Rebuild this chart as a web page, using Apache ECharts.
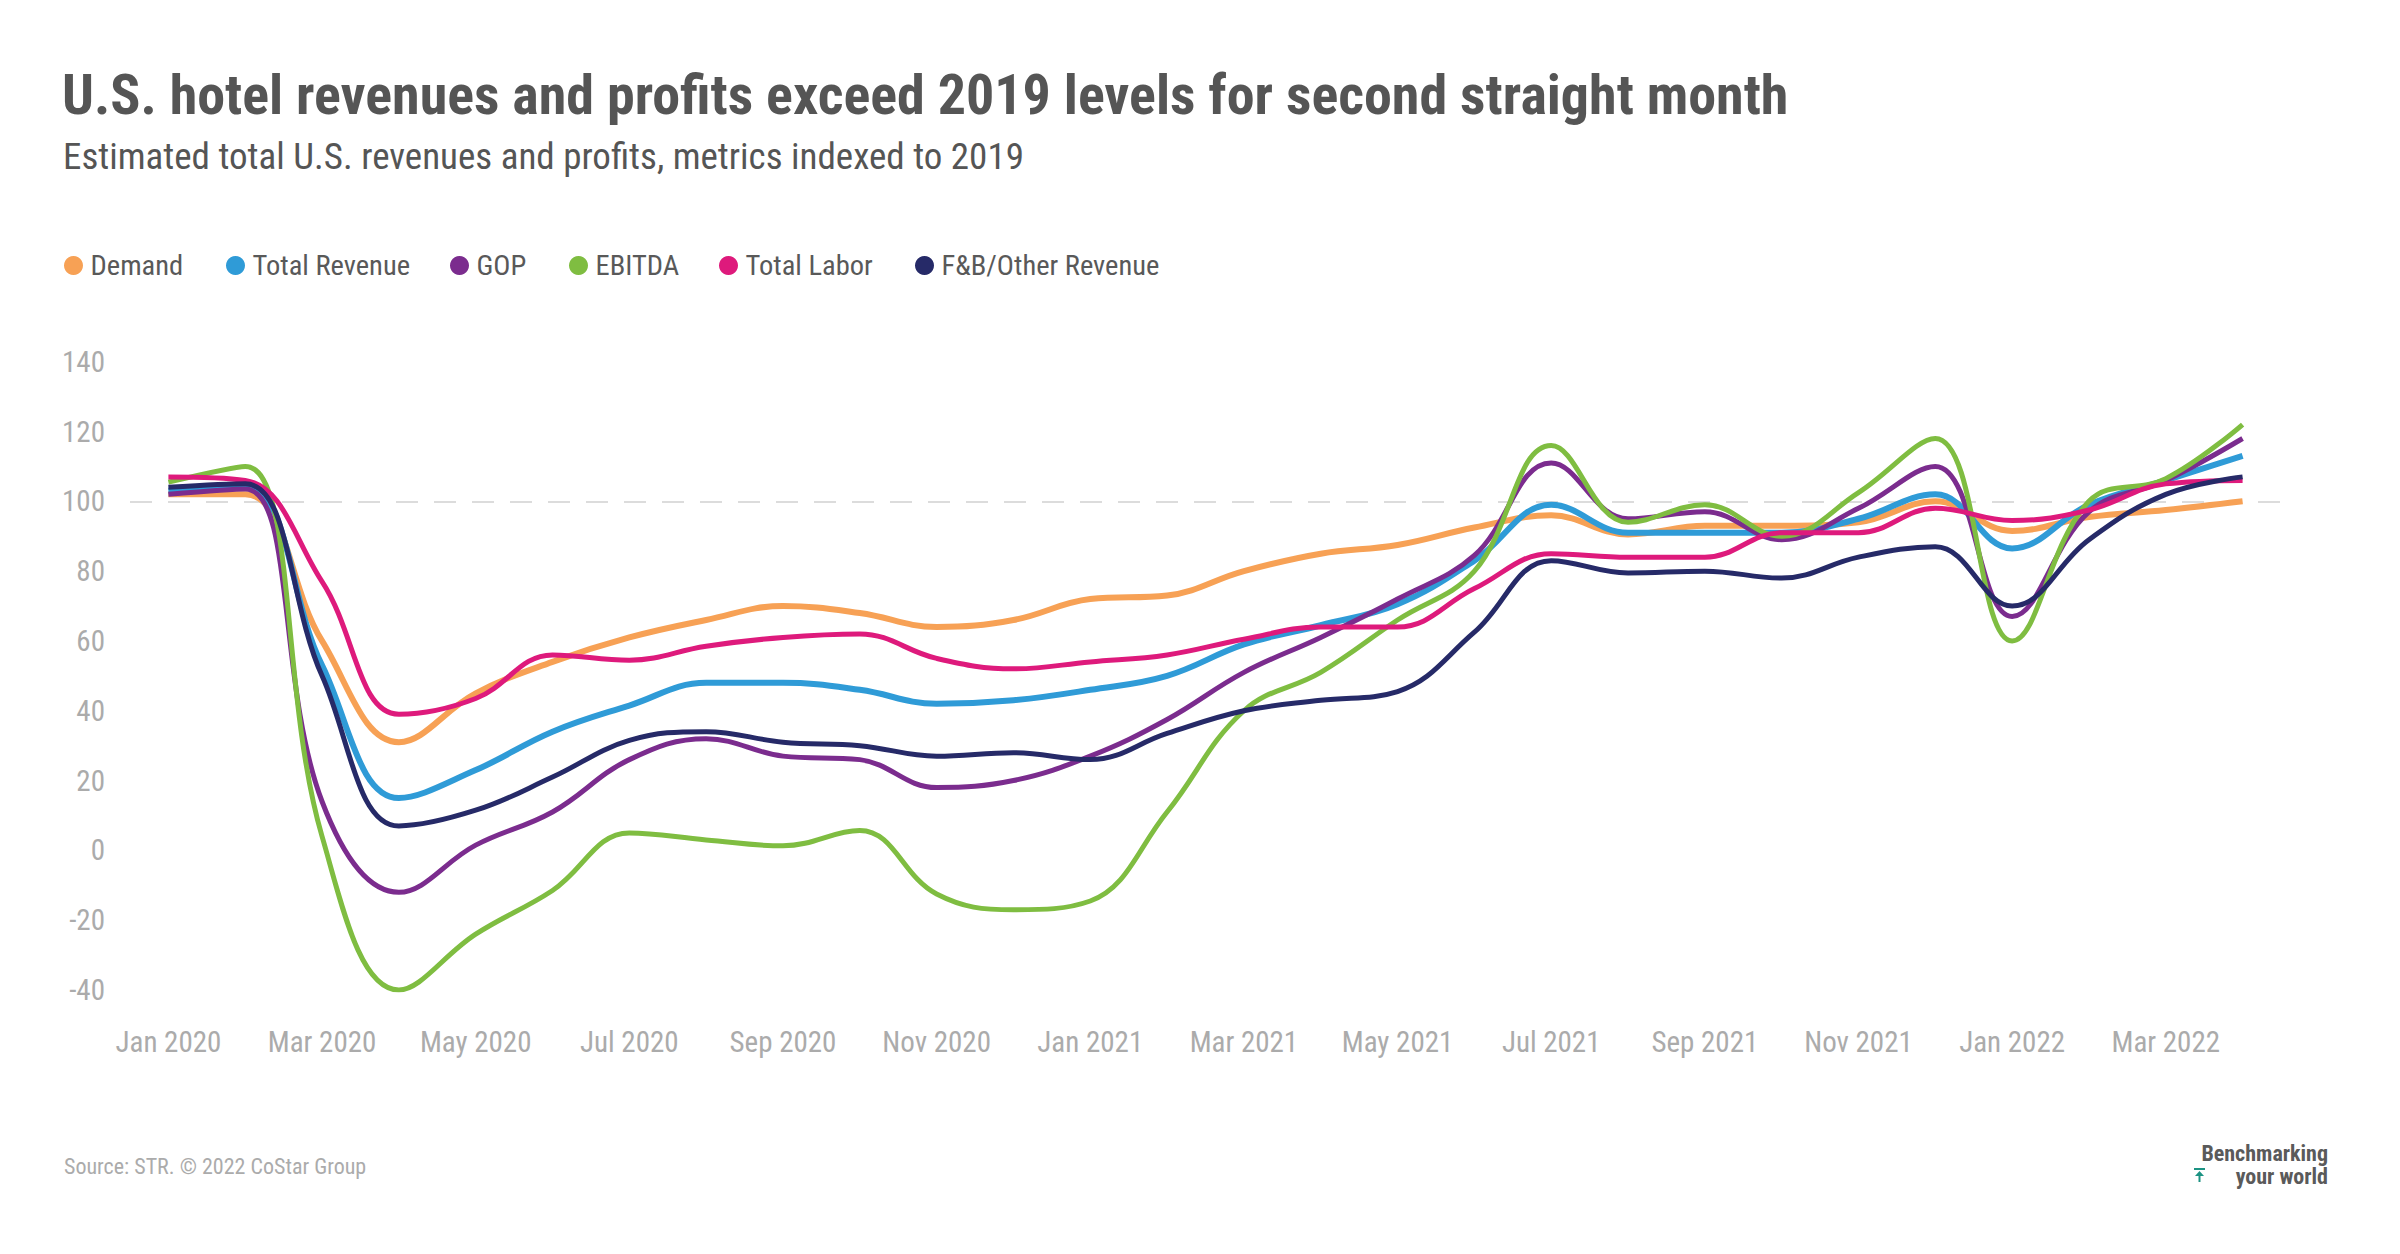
<!DOCTYPE html>
<html>
<head>
<meta charset="utf-8">
<script src="https://cdn.jsdelivr.net/npm/echarts@6/dist/echarts.min.js"></script>
<style>
  html, body { margin: 0; padding: 0; background: #fff; }
  #chart { width: 2400px; height: 1254px; }
  #chart text { font-stretch: 75% !important; }
</style>
</head>
<body>
<div id="chart"></div>
<script>
const months = ['Jan 2020','Feb 2020','Mar 2020','Apr 2020','May 2020','Jun 2020','Jul 2020','Aug 2020','Sep 2020','Oct 2020','Nov 2020','Dec 2020',
  'Jan 2021','Feb 2021','Mar 2021','Apr 2021','May 2021','Jun 2021','Jul 2021','Aug 2021','Sep 2021','Oct 2021','Nov 2021','Dec 2021',
  'Jan 2022','Feb 2022','Mar 2022','Apr 2022'];
const demand       = [102, 102, 60, 31, 45, 54, 61, 66, 70, 68, 64, 66, 72, 73, 80, 85, 87.5, 92.5, 96, 90.5, 93, 93, 94, 100, 91.5, 95.5, 97.5, 100];
const totalRevenue = [103, 104, 53, 15, 23, 34, 41.5, 48, 48, 46, 42, 43, 46, 50, 59, 64.5, 70.5, 83, 99, 91, 91, 91, 95, 102, 86.5, 99, 106, 113];
const gop          = [102, 103.5, 14, -12, 1.5, 11, 26, 32, 27, 26, 18, 20, 27, 37.5, 51, 61, 72, 84.5, 111, 95, 97, 89, 98, 110, 67, 97, 106, 118];
const ebitda       = [105.5, 110, 4, -40, -24, -11.5, 5, 3, 1.3, 5.7, -12.5, -17, -14.5, 11, 40, 51, 66, 80, 116, 94, 99, 90, 102.5, 118, 60, 100, 106.5, 122];
const totalLabor   = [107, 106, 77, 39, 43.5, 56, 54.5, 58.5, 61, 62, 55, 52, 54, 56, 60.5, 64, 64, 75, 85, 84, 84, 91, 91, 98, 94.5, 97.5, 105, 106];
const fbOther      = [104, 105, 50, 7, 11.5, 21, 31.5, 34, 31, 30, 27, 28, 26, 33.5, 40, 43, 45.5, 62.5, 83, 79.5, 80, 78, 84, 87, 70, 89, 102, 107];
const yTicks = [-40, -20, 0, 20, 40, 60, 80, 100, 120, 140];

const seriesNames  = ['Demand', 'Total Revenue', 'GOP', 'EBITDA', 'Total Labor', 'F&B/Other Revenue'];
const seriesData   = [demand, totalRevenue, gop, ebitda, totalLabor, fbOther];
const seriesColors = ['#F7A155', '#2F9BD7', '#7B2C8E', '#7FBD41', '#DE1A7C', '#262A68'];
const seriesWidths = [6, 6, 5, 5, 5, 5];
const legendLefts  = [64, 226, 450, 569, 719, 915];

const FF = "'Roboto Condensed', Roboto, sans-serif";

const chart = echarts.init(document.getElementById('chart'), null, { renderer: 'svg' });

const series = seriesNames.map((name, i) => {
  const s = {
    name: name,
    type: 'line',
    data: seriesData[i],
    smooth: 0.4,
    symbol: 'none',
    lineStyle: { width: seriesWidths[i], color: seriesColors[i] },
    itemStyle: { color: seriesColors[i] },
    z: 2 + i
  };
  if (i === 0) {
    s.markLine = {
      silent: true,
      symbol: 'none',
      z: 1,
      label: { show: false },
      lineStyle: { type: [22, 16], color: '#DCDCDC', width: 2 },
      data: [{ yAxis: 100 }]
    };
  }
  return s;
});

const legends = seriesNames.map((name, i) => ({
  data: [name],
  left: legendLefts[i],
  top: 251,
  padding: 0,
  icon: 'circle',
  itemWidth: 24,
  itemHeight: 19,
  textStyle: { fontFamily: FF, fontSize: 28.5, color: '#595959' }
}));

chart.setOption({
  animation: false,
  backgroundColor: '#ffffff',
  title: [
    { text: 'U.S. hotel revenues and profits exceed 2019 levels for second straight month',
      left: 62, top: 67, padding: 0,
      textStyle: { fontFamily: FF, fontSize: 56, fontWeight: 'bold', color: '#555555' } },
    { text: 'Estimated total U.S. revenues and profits, metrics indexed to 2019',
      left: 63, top: 138, padding: 0,
      textStyle: { fontFamily: FF, fontSize: 37, fontWeight: 'normal', color: '#555555' } }
  ],
  legend: legends,
  grid: { left: 130, right: 119, top: 361.7, bottom: 264 },
  xAxis: {
    type: 'category',
    data: months,
    boundaryGap: true,
    axisLine: { show: false },
    axisTick: { show: false },
    axisLabel: { interval: 1, margin: 37, fontFamily: FF, fontSize: 29, color: '#ABABAB' },
    splitLine: { show: false }
  },
  yAxis: {
    type: 'value',
    min: yTicks[0],
    max: yTicks[yTicks.length - 1],
    interval: 20,
    axisLine: { show: false },
    axisTick: { show: false },
    axisLabel: { margin: 25, fontFamily: FF, fontSize: 29, color: '#ABABAB' },
    splitLine: { show: false }
  },
  series: series,
  graphic: [
    { type: 'text', left: 64, top: 1155, style: { text: 'Source: STR. © 2022 CoStar Group', fontFamily: FF, fontSize: 22, fill: '#ABABAB' } },
    { type: 'text', right: 72, top: 1142, style: { text: 'Benchmarking', fontFamily: FF, fontSize: 22, lineHeight: 22, fontWeight: 'bold', fill: '#5A5A5A' } },
    { type: 'text', right: 72, top: 1165, style: { text: 'your world', fontFamily: FF, fontSize: 22, lineHeight: 22, fontWeight: 'bold', fill: '#5A5A5A' } },
    { type: 'group', left: 2194, top: 1168, children: [
      { type: 'rect', shape: { x: 0, y: 0, width: 11, height: 2 }, style: { fill: '#1C9383' } },
      { type: 'rect', shape: { x: 4.5, y: 5, width: 2, height: 9 }, style: { fill: '#1C9383' } },
      { type: 'polygon', shape: { points: [[1, 8], [5.5, 3], [10, 8]] }, style: { fill: '#1C9383' } }
    ] }
  ]
});
</script>
</body>
</html>
